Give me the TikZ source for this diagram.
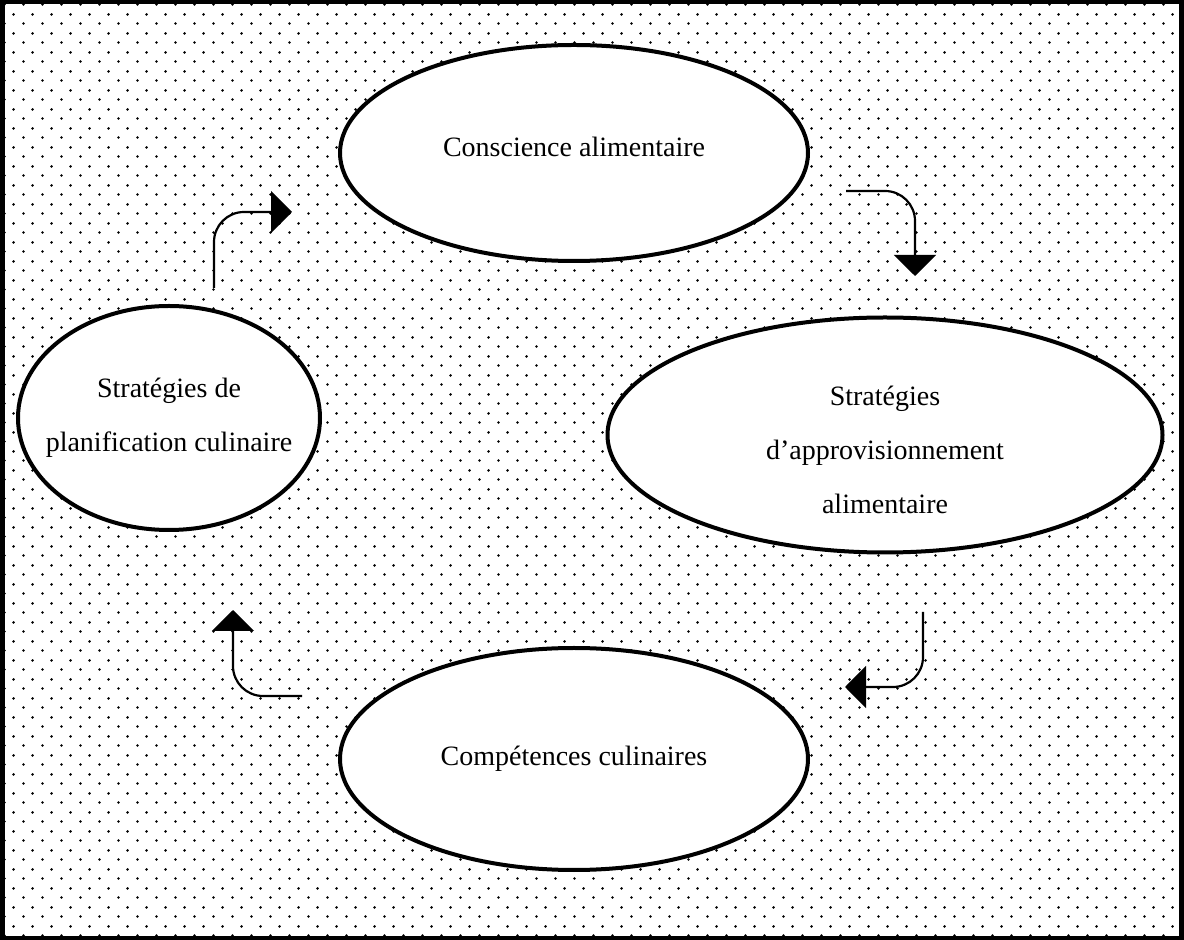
\documentclass[tikz,border=0pt]{standalone}
\usepackage{fontspec}
\setmainfont{Liberation Serif}
\usetikzlibrary{shapes,arrows}
\usetikzlibrary{positioning,arrows.meta,patterns,calc}
\pgfdeclarepatternformonly{stagdots}{\pgfpointorigin}{\pgfpoint{9.5pt}{9.5pt}}{\pgfpoint{9.5pt}{9.5pt}}{%
  \pgfpathcircle{\pgfpoint{2.375pt}{2.375pt}}{0.75pt}%
  \pgfpathcircle{\pgfpoint{7.125pt}{7.125pt}}{0.75pt}%
  \pgfusepath{fill}}
\tikzset{
     stage/.style={ellipse, draw, line width=2pt, fill=white, inner sep=-40pt,
                   align=center, font=\fontsize{14}{27}\selectfont},
     turn/.style={line width=1.1pt, rounded corners=15pt,
                  -{Triangle[width=21pt,length=10.5pt]}}
     }

\begin{document}
\begin{tikzpicture}[x=0.5pt,y=-0.5pt]
\useasboundingbox (0,0) rectangle (1184,940);
\draw[line width=2.25pt, preaction={fill=white}, pattern=stagdots] (2.5,2.25) rectangle (1181.5,937.75);

\node [stage, minimum width=234pt, minimum height=108pt, text height=9pt, text depth=5pt] (CA) at (574,153) {Conscience alimentaire};
\node [stage, minimum width=277.5pt, minimum height=117.5pt, text height=79pt, text depth=0pt] (SA) at (885,435) {Stratégies\\d’approvisionnement\\alimentaire};
\node [stage, minimum width=234pt, minimum height=111pt] (CC) at (574,759) {Compétences culinaires};
\node [stage, minimum width=151pt, minimum height=112pt] (SP) at (169,418) {Stratégies de\\planification culinaire};

% arrow ends
\coordinate (a1s) at (846,191);
\coordinate (a1e) at (915,276);
\coordinate (a2s) at (923,612);
\coordinate (a2e) at (845,687);
\coordinate (a3s) at (302,696);
\coordinate (a3e) at (233,610);
\coordinate (a4s) at (214,288);
\coordinate (a4e) at (292,212);

%Lines
\draw[turn] (a1s) -| (a1e);
\draw[turn] (a2s) |- (a2e);
\draw[turn] (a3s) -| (a3e);
\draw[turn] (a4s) |- (a4e);
\end{tikzpicture}
\end{document}
